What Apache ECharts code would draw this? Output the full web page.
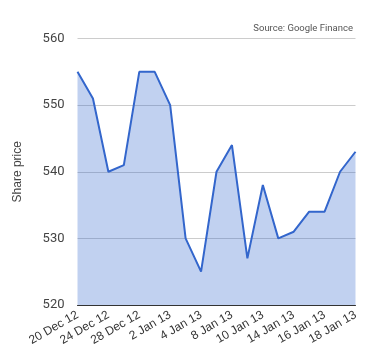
<!DOCTYPE html>
<html><head><meta charset="utf-8">
<script src="https://cdn.jsdelivr.net/npm/echarts@6/dist/echarts.min.js"></script>
<style>html,body{margin:0;padding:0;background:#fff}#c{width:380px;height:360px}</style>
</head><body><div id="c"></div>
<script>
const categories = ['20 Dec 12','21 Dec 12','24 Dec 12','27 Dec 12','28 Dec 12','31 Dec 12','2 Jan 13','3 Jan 13','4 Jan 13','7 Jan 13','8 Jan 13','9 Jan 13','10 Jan 13','11 Jan 13','14 Jan 13','15 Jan 13','16 Jan 13','17 Jan 13','18 Jan 13'];
const prices = [555,551,540,541,555,555,550,530,525,540,544,527,538,530,531,534,534,540,543];
const yTicks = {min:520, max:560, interval:10};

const chart = echarts.init(document.getElementById('c'), null, {renderer:'canvas'});
chart.setOption({
  animation:false,
  title:{text:'Source: Google Finance', right:22, top:19,
    textStyle:{fontFamily:'Roboto', fontSize:9.5, fontWeight:'normal', color:'#555'}},
  grid:{left:77.5, right:24.5, top:38.5, bottom:55},
  xAxis:{type:'category', data:categories, boundaryGap:false,
    axisLine:{lineStyle:{color:'#333', width:1}},
    axisTick:{show:false},
    axisLabel:{interval:1, rotate:30, fontFamily:'Liberation Sans', fontSize:12, color:'#333', margin:9}},
  yAxis:{type:'value', min:yTicks.min, max:yTicks.max, interval:yTicks.interval,
    name:'Share price', nameLocation:'middle', nameGap:54, nameRotate:90,
    nameTextStyle:{fontFamily:'Liberation Sans', fontSize:12, color:'#444'},
    axisLine:{show:false}, axisTick:{show:false},
    axisLabel:{fontFamily:'Roboto', fontSize:13, color:'#444', margin:13},
    splitLine:{lineStyle:{color:'#ccc', width:1}}},
  series:[{type:'line', data:prices, symbol:'none',
    lineStyle:{color:'#3366cc', width:2},
    areaStyle:{color:'#3366cc', opacity:0.3, origin:'start'}}]
});
</script></body></html>
